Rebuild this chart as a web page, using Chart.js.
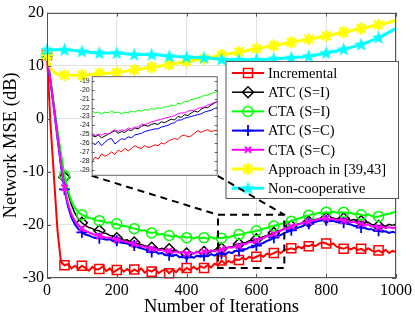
<!DOCTYPE html>
<html><head><meta charset="utf-8">
<script src="https://cdn.jsdelivr.net/npm/chart.js@4.4.0/dist/chart.umd.min.js"></script>
<style>
html,body{margin:0;padding:0;background:#fff;}
#wrap{position:relative;width:415px;height:316px;overflow:hidden;}
#main{position:absolute;left:0;top:0;}
#inset{position:absolute;left:72px;top:70px;}
</style></head><body>
<div id="wrap"><canvas id="main" width="415" height="316"></canvas><canvas id="inset" width="150" height="112"></canvas></div>
<script>
// ---------- DATA ----------
const iterations = [0,10,20,30,40,50,60,70,80,90,
 100,110,120,130,140,150,160,170,180,190,
 200,210,220,230,240,250,260,270,280,290,
 300,310,320,330,340,350,360,370,380,390,
 400,410,420,430,440,450,460,470,480,490,
 500,510,520,530,540,550,560,570,580,590,
 600,610,620,630,640,650,660,670,680,690,
 700,710,720,730,740,750,760,770,780,790,
 800,810,820,830,840,850,860,870,880,890,
 900,910,920,930,940,950,960,970,980,990,
 1000];
const incremental = [12,-1,-11,-21,-27,-27.6,-27.4,-28.2,-27.7,-28.3,
 -27.7,-28.1,-28.6,-27.9,-28.4,-28.3,-27.8,-28.7,-28.2,-28.9,
 -28.5,-28.1,-28.8,-28.3,-28.9,-28.4,-28.8,-28.2,-29.0,-28.5,
 -28.8,-28.3,-29.1,-28.6,-28.4,-29.1,-28.5,-28.9,-28.2,-28.7,
 -28.1,-28.5,-27.9,-28.4,-27.8,-28.1,-27.6,-28.0,-27.3,-27.6,
 -26.7,-27.3,-26.8,-27.1,-26.5,-26.6,-26.2,-26.5,-26.0,-26.3,
 -26.0,-25.7,-26.0,-25.4,-25.6,-25.3,-25.0,-25.3,-24.7,-24.6,
 -24.4,-24.6,-24.1,-24.4,-23.9,-24.0,-23.7,-24.0,-23.5,-23.3,
 -23.5,-23.8,-23.5,-24.1,-24.3,-24.5,-24.2,-24.6,-24.3,-24.7,
 -24.5,-24.9,-24.4,-24.8,-25.1,-24.8,-25.2,-24.7,-25.3,-24.9,
 -25.1];
const atcI = [12,7.2,2.3,-2.6,-7.0,-11.0,-14.0,-16.2,-17.8,-18.9,
 -19.6,-20.1,-20.5,-20.7,-21.0,-21.1,-21.5,-21.6,-22.0,-22.1,
 -22.5,-22.6,-22.9,-22.8,-23.3,-23.3,-23.6,-23.7,-23.9,-24.1,
 -24.3,-24.2,-24.6,-24.4,-24.8,-24.6,-25.0,-24.8,-25.2,-25.0,
 -25.4,-25.1,-25.4,-25.0,-25.3,-25.1,-24.9,-25.1,-24.7,-24.8,
 -24.5,-24.5,-24.2,-24.1,-23.8,-23.6,-23.4,-23.3,-23.0,-22.9,
 -22.7,-22.5,-22.2,-22.0,-21.8,-21.5,-21.2,-21.0,-20.7,-20.5,
 -20.2,-20.0,-19.8,-19.7,-19.4,-19.4,-19.1,-19.0,-18.8,-18.9,
 -18.7,-18.9,-18.7,-18.9,-18.8,-18.8,-19.0,-19.1,-19.0,-19.3,
 -19.3,-19.6,-19.5,-19.9,-20.0,-20.2,-20.0,-20.3,-19.9,-20.1,
 -19.8];
const ctaI = [12,7.5,2.6,-2.2,-6.6,-10.7,-13.5,-15.5,-16.8,-17.6,
 -18.1,-18.4,-18.7,-18.8,-19.1,-19.2,-19.3,-19.6,-19.5,-19.9,
 -19.8,-20.1,-20.2,-20.3,-20.6,-20.7,-20.8,-21.1,-21.0,-21.4,
 -21.5,-21.4,-21.8,-21.7,-22.0,-22.0,-22.2,-22.0,-22.4,-22.2,
 -22.4,-22.3,-22.6,-22.3,-22.5,-22.4,-22.6,-22.3,-22.6,-22.4,
 -22.5,-22.3,-22.4,-22.1,-22.0,-21.8,-21.8,-21.5,-21.4,-21.3,
 -21.1,-21.0,-20.7,-20.6,-20.3,-20.2,-20.0,-19.8,-19.7,-19.4,
 -19.3,-19.0,-18.8,-18.6,-18.3,-18.2,-18.0,-17.9,-17.7,-17.8,
 -17.6,-17.8,-17.5,-17.7,-17.6,-17.6,-17.8,-17.7,-18.0,-17.9,
 -18.1,-18.2,-18.0,-18.3,-18.5,-18.4,-18.2,-18.0,-17.9,-17.7,
 -17.5];
const atcC = [12,7.0,1.8,-3.6,-8.8,-13.3,-16.5,-18.6,-19.9,-20.8,
 -21.4,-21.8,-22.0,-22.3,-22.4,-22.5,-22.6,-22.8,-22.7,-23.0,
 -23.0,-23.3,-23.4,-23.5,-23.8,-23.9,-24.2,-24.4,-24.6,-24.9,
 -25.1,-25.0,-25.4,-25.3,-25.7,-25.7,-25.9,-25.6,-26.1,-25.8,
 -26.1,-25.8,-26.2,-25.8,-26.0,-25.8,-25.9,-25.5,-25.8,-25.4,
 -25.4,-25.6,-25.1,-25.3,-24.9,-24.9,-24.6,-24.6,-24.2,-24.2,
 -23.9,-23.6,-23.4,-23.0,-22.8,-22.4,-22.1,-21.9,-21.5,-21.3,
 -21.0,-20.8,-20.5,-20.3,-20.0,-19.8,-19.6,-19.4,-19.2,-19.1,
 -19.1,-19.3,-19.2,-19.5,-19.4,-19.6,-19.8,-19.9,-20.2,-20.2,
 -20.5,-20.6,-20.8,-20.8,-21.1,-21.1,-21.3,-21.2,-21.5,-21.3,
 -21.5];
const ctaC = [12,7.1,2.0,-3.4,-8.6,-13.0,-16.0,-18.0,-19.3,-20.1,
 -20.7,-21.1,-21.4,-21.7,-21.9,-22.1,-22.2,-22.4,-22.4,-22.7,
 -22.8,-22.9,-23.1,-23.2,-23.5,-23.6,-23.8,-24.0,-24.1,-24.4,
 -24.5,-24.5,-24.8,-24.7,-25.0,-24.9,-25.2,-25.0,-25.3,-25.1,
 -25.4,-25.2,-25.4,-25.1,-25.3,-25.0,-25.1,-24.8,-25.0,-24.7,
 -24.6,-24.6,-24.2,-24.3,-24.0,-24.0,-23.6,-23.6,-23.2,-23.2,
 -23.0,-22.6,-22.5,-22.1,-22.0,-21.7,-21.3,-21.1,-20.8,-20.6,
 -20.3,-20.1,-19.9,-19.7,-19.5,-19.4,-19.2,-19.1,-18.9,-18.8,
 -18.8,-18.9,-18.9,-19.1,-19.0,-19.2,-19.2,-19.5,-19.4,-19.7,
 -19.8,-20.0,-19.9,-20.3,-20.2,-20.5,-20.3,-20.6,-20.4,-20.6,
 -20.5];
const approachIter = [0,10,20,30,40,50,100,150,200,250,300,350,400,450,500,550,600,650,700,750,800,850,900,950,1000];
const approach = [12,9.6,8.8,8.4,8.3,8.2,8.2,8.5,8.7,9.2,9.7,10.2,10.8,11.3,12.0,12.6,13.2,13.8,14.4,15.0,15.6,16.3,17.0,17.7,18.5];
const noncoopIter = [0,50,100,150,200,250,300,350,400,450,500,550,600,650,700,750,800,850,900,950,1000];
const noncoop = [13.0,13.0,12.7,12.4,12.4,12.1,12.1,11.8,11.6,11.5,11.2,11.1,11.1,11.3,11.5,11.8,12.4,13.1,14.0,15.3,17.0];

const insetIter = [490,495,500,505,510,515,520,525,530,535,540,545,550,555,560,565,570,575,580,585,590,595,600,605,610,615,620,625,630,635,640,645,650,655,660,665,670,675,680];
const insetIncremental = [-28.2,-27.6,-27.8,-27.2,-27.5,-27.3,-27.0,-27.3,-26.8,-27.0,-26.6,-26.9,-26.6,-26.3,-26.5,-26.6,-26.3,-26.5,-26.4,-26.2,-26.3,-26.0,-26.1,-25.8,-25.6,-25.5,-25.6,-25.2,-25.1,-25.3,-25.2,-24.9,-24.6,-24.8,-24.6,-24.5,-24.7,-24.6,-24.6];
const insetAtcI = [-25.1,-25.3,-25.1,-25.4,-25.2,-25.0,-24.8,-24.6,-24.9,-24.7,-24.8,-24.5,-24.6,-24.3,-24.4,-24.1,-24.0,-24.1,-23.9,-23.8,-23.9,-23.6,-23.7,-23.5,-23.3,-23.4,-23.0,-23.1,-22.8,-22.9,-22.6,-22.4,-22.5,-22.2,-22.0,-22.0,-21.7,-21.5,-21.3];
const insetCtaI = [-22.3,-22.6,-22.5,-22.7,-22.5,-22.6,-22.4,-22.6,-22.5,-22.7,-22.5,-22.6,-22.4,-22.5,-22.3,-22.4,-22.2,-22.3,-22.1,-22.2,-22.0,-22.1,-21.9,-21.9,-21.7,-21.8,-21.5,-21.6,-21.3,-21.3,-21.1,-21.0,-20.9,-20.8,-20.6,-20.6,-20.4,-20.3,-20.1];
const insetAtcC = [-25.9,-26.2,-25.8,-26.3,-25.9,-25.6,-25.5,-26.1,-25.8,-25.5,-25.6,-25.3,-25.4,-25.1,-25.0,-24.9,-24.7,-24.6,-24.5,-24.4,-24.4,-24.2,-24.1,-24.0,-23.8,-23.7,-23.4,-23.4,-23.2,-23.1,-23.0,-22.9,-22.8,-22.7,-22.5,-22.4,-22.3,-22.1,-22.0];
const insetCtaC = [-24.9,-25.2,-25.0,-25.1,-24.9,-25.0,-24.7,-24.5,-24.7,-24.5,-24.6,-24.3,-24.4,-24.2,-24.2,-23.9,-23.9,-23.8,-23.6,-23.5,-23.4,-23.3,-23.2,-23.1,-23.0,-22.9,-22.7,-22.6,-22.6,-22.4,-22.3,-22.3,-22.1,-22.0,-21.9,-21.7,-21.6,-21.4,-21.3];

const xTicks = [0,200,400,600,800,1000];
const yTicks = [-30,-20,-10,0,10,20];
const insetYTicks = [-29,-28,-27,-26,-25,-24,-23,-22,-21,-20,-19];
const seriesNames = ['Incremental','ATC (S=I)','CTA (S=I)','ATC (S=C)','CTA (S=C)','Approach in [39,43]','Non-cooperative'];
const zoomX = [490,680];
const zoomY = [-28.1,-18.1];

// ---------- STYLE ----------
const SERIF = "'Liberation Serif','Times New Roman',serif";
Chart.defaults.font.family = SERIF;
const pentagram = (() => {
  const c = document.createElement('canvas'); c.width = 15; c.height = 15;
  const g = c.getContext('2d'); g.fillStyle = '#00ffff'; g.beginPath();
  for (let k = 0; k < 10; k++) {
    const ang = -Math.PI / 2 + k * Math.PI / 5;
    const rr = k % 2 === 0 ? 7.3 : 3.0;
    g.lineTo(7.5 + rr * Math.cos(ang), 7.9 + rr * Math.sin(ang));
  }
  g.closePath(); g.fill(); return c;
})();
const ST = [
  {color:'#ff0000', width:2, marker:'rect', r:6.4, pw:1.5},
  {color:'#000000', width:1.5, marker:'rectRot', r:5.5, pw:1.5},
  {color:'#00ff00', width:2, marker:'circle', r:5, pw:1.5},
  {color:'#0000ff', width:2, marker:'cross', r:5.5, pw:1.8},
  {color:'#ff00ff', width:2, marker:'crossRot', r:4.5, pw:1.8},
  {color:'#ffff00', width:3, marker:'star', r:6, pw:2.5, smooth:true},
  {color:'#00ffff', width:3, marker:pentagram, r:6, pw:1, smooth:true}
];
const LEG = {x:225.5, y:61, w:172.5, h:137, l0:232, l1:264, tx:268, row0:73, gap:19.2};
const plainNumber = v => String(v);

function markerRadius(r) {
  return ctx => { const p = ctx.raw; return (p && p.x % 50 === 0 && p.x < 1000) ? r : 0; };
}
function makeDs(i, xs, ys) {
  const s = ST[i];
  const ds = {
    label: seriesNames[i], data: xs.map((x, k) => ({x, y: ys[k]})),
    borderColor: s.color, backgroundColor: s.color, borderWidth: s.width,
    pointStyle: s.marker, pointRadius: markerRadius(s.r), pointHoverRadius: 0,
    pointBorderColor: s.color, pointBackgroundColor: 'rgba(0,0,0,0)', pointBorderWidth: s.pw,
    order: 7 - i, clip: false, tension: 0
  };
  if (s.smooth) ds.cubicInterpolationMode = 'monotone';
  return ds;
}

function drawMarker(ctx, style, x, y, r, color, lw) {
  ctx.save(); ctx.strokeStyle = color; ctx.fillStyle = color; ctx.lineWidth = lw; ctx.setLineDash([]);
  if (typeof style !== 'string') { ctx.drawImage(style, x - style.width/2, y - style.height/2); ctx.restore(); return; }
  ctx.beginPath();
  const d = r * Math.SQRT1_2;
  if (style === 'rect') ctx.rect(x - d, y - d, 2*d, 2*d);
  else if (style === 'rectRot') { ctx.moveTo(x - r, y); ctx.lineTo(x, y - r); ctx.lineTo(x + r, y); ctx.lineTo(x, y + r); ctx.closePath(); }
  else if (style === 'circle') ctx.arc(x, y, r, 0, Math.PI*2);
  else {
    if (style === 'cross' || style === 'star') { ctx.moveTo(x - r, y); ctx.lineTo(x + r, y); ctx.moveTo(x, y - r); ctx.lineTo(x, y + r); }
    if (style === 'crossRot' || style === 'star') { ctx.moveTo(x - d, y - d); ctx.lineTo(x + d, y + d); ctx.moveTo(x + d, y - d); ctx.lineTo(x - d, y + d); }
  }
  ctx.stroke(); ctx.restore();
}

// ---------- INSET ----------
const insetCanvas = document.getElementById('inset');
const insetDecor = {
  id: 'insetDecor',
  beforeDatasetsDraw(chart) {
    const a = chart.chartArea, c = chart.ctx;
    c.save(); c.fillStyle = '#fff'; c.fillRect(a.left, a.top, a.right - a.left, a.bottom - a.top); c.restore();
  },
  afterDraw(chart) {
    const a = chart.chartArea, c = chart.ctx, y = chart.scales.y;
    c.save(); c.strokeStyle = '#666'; c.lineWidth = 1;
    c.strokeRect(a.left + 0.5, a.top + 0.5, a.right - a.left - 1, a.bottom - a.top - 1);
    c.beginPath();
    insetYTicks.forEach(v => { const py = Math.round(y.getPixelForValue(v)) + 0.5;
      c.moveTo(a.left, py); c.lineTo(a.left + 3, py); c.moveTo(a.right, py); c.lineTo(a.right - 3, py); });
    c.stroke(); c.restore();
  }
};
const insetSeries = [insetIncremental, insetAtcI, insetCtaI, insetAtcC, insetCtaC];
const insetChart = new Chart(insetCanvas, {
  type: 'line',
  data: { datasets: insetSeries.map((vals, i) => ({
    data: insetIter.map((x, k) => ({x, y: vals[k]})), borderColor: ST[i].color, borderWidth: 1,
    pointRadius: 0, order: 7 - i, tension: 0 })) },
  options: {
    responsive: false, animation: false, devicePixelRatio: 1,
    layout: { padding: { top: 6, right: 4.3, left: 0, bottom: 4.5 } },
    plugins: { legend: { display: false }, tooltip: { enabled: false } },
    scales: {
      x: { type: 'linear', min: 490, max: 680, display: false },
      y: { min: -29.7, max: -18.45,
        afterBuildTicks: s => { s.ticks = insetYTicks.map(v => ({value: v})); },
        afterFit: s => { s.width = 19.7; },
        ticks: { font: { family: "'Liberation Sans',Arial,sans-serif", size: 7 }, color: '#222', padding: 2, autoSkip: false, callback: plainNumber },
        grid: { display: false, drawTicks: false }, border: { display: false } }
    }
  },
  plugins: [insetDecor]
});

// ---------- MAIN ----------
const datasets = [incremental, atcI, ctaI, atcC, ctaC].map((vals, i) => makeDs(i, iterations, vals));
datasets.push(makeDs(5, approachIter, approach));
datasets.push(makeDs(6, noncoopIter, noncoop));

const mainDecor = {
  id: 'mainDecor',
  afterDraw(chart) {
    const c = chart.ctx, a = chart.chartArea, x = chart.scales.x, y = chart.scales.y;
    c.save();
    c.strokeStyle = '#555'; c.lineWidth = 1; c.setLineDash([]);
    c.strokeRect(Math.round(a.left) + 0.5, Math.round(a.top) + 0.5, Math.round(a.right - a.left) - 1, Math.round(a.bottom - a.top) - 1);
    c.beginPath();
    xTicks.forEach(v => { const px = Math.round(x.getPixelForValue(v)) + 0.5;
      c.moveTo(px, a.bottom); c.lineTo(px, a.bottom - 4); c.moveTo(px, a.top); c.lineTo(px, a.top + 4); });
    yTicks.forEach(v => { const py = Math.round(y.getPixelForValue(v)) + 0.5;
      c.moveTo(a.left, py); c.lineTo(a.left + 4, py); c.moveTo(a.right, py); c.lineTo(a.right - 4, py); });
    c.stroke();
    // legend
    c.fillStyle = '#fff'; c.fillRect(LEG.x, LEG.y, LEG.w, LEG.h);
    c.strokeStyle = '#555'; c.strokeRect(LEG.x + 0.5, LEG.y + 0.5, LEG.w, LEG.h);
    c.font = '14.5px ' + SERIF; c.textBaseline = 'middle'; c.textAlign = 'left';
    seriesNames.forEach((name, i) => {
      const s = ST[i], yy = LEG.row0 + i * LEG.gap;
      c.strokeStyle = s.color; c.lineWidth = s.width; c.beginPath(); c.moveTo(LEG.l0, yy); c.lineTo(LEG.l1, yy); c.stroke();
      drawMarker(c, s.marker, (LEG.l0 + LEG.l1) / 2, yy, s.r, s.color, s.pw);
      c.fillStyle = '#000'; c.fillText(name, LEG.tx, yy + 1);
    });
    // zoom box + connectors
    c.strokeStyle = '#000'; c.lineWidth = 2; c.setLineDash([7, 5]);
    const rx0 = x.getPixelForValue(zoomX[0]), rx1 = x.getPixelForValue(zoomX[1]);
    const ry0 = y.getPixelForValue(zoomY[1]), ry1 = y.getPixelForValue(zoomY[0]);
    c.strokeRect(rx0, ry0, rx1 - rx0, ry1 - ry0);
    const ia = insetChart.chartArea, ox = insetCanvas.offsetLeft, oy = insetCanvas.offsetTop;
    c.beginPath();
    c.moveTo(ox + ia.left, oy + ia.bottom); c.lineTo(rx0, ry0);
    c.moveTo(ox + ia.right, oy + ia.bottom); c.lineTo(rx1, ry0);
    c.stroke();
    c.restore();
  }
};

new Chart(document.getElementById('main'), {
  type: 'line',
  data: { datasets },
  options: {
    responsive: false, animation: false, devicePixelRatio: 1,
    layout: { padding: { top: 7, right: 16.5, left: 0, bottom: 0 } },
    plugins: { legend: { display: false }, tooltip: { enabled: false } },
    scales: {
      x: { type: 'linear', min: 0, max: 1000,
        afterBuildTicks: s => { s.ticks = xTicks.map(v => ({value: v})); },
        afterFit: s => { s.height = 38; },
        ticks: { color: '#000', font: { size: 16 }, padding: 3, maxRotation: 0, autoSkip: false, callback: plainNumber },
        grid: { color: '#e2e2e2', drawTicks: false }, border: { display: false },
        title: { display: true, text: 'Number of Iterations', color: '#000', font: { size: 18.5, lineHeight: 1 }, padding: { top: 0, bottom: 0 } } },
      y: { min: -30, max: 20,
        afterBuildTicks: s => { s.ticks = yTicks.map(v => ({value: v})); },
        afterFit: s => { s.width = 47; },
        ticks: { color: '#000', font: { size: 16 }, padding: 3, autoSkip: false, callback: plainNumber },
        grid: { color: '#e2e2e2', drawTicks: false }, border: { display: false },
        title: { display: true, text: 'Network MSE (dB)', color: '#000', font: { size: 18.5, lineHeight: 1 }, padding: { top: 2, bottom: 0 } } }
    }
  },
  plugins: [mainDecor]
});
</script>
</body></html>
